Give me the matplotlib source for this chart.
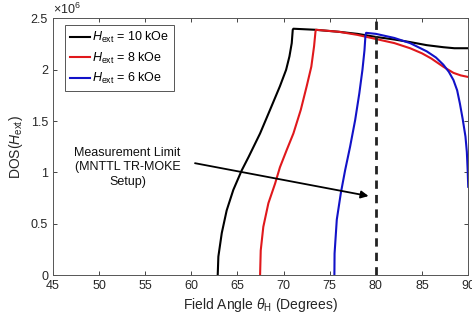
import numpy as np
import matplotlib
matplotlib.use('Agg')
import matplotlib.pyplot as plt

plt.rcParams['font.family'] = ['Liberation Sans', 'DejaVu Sans']
plt.rcParams['mathtext.fontset'] = 'custom'
plt.rcParams['mathtext.rm'] = 'Liberation Sans'
plt.rcParams['mathtext.it'] = 'Liberation Sans:italic'

# Field angle (deg) and DOS (x 1e6)
theta_10 = [62.86, 62.93, 63.3, 63.83, 64.55, 65.46, 66.2, 67.45, 68.53,
            69.6, 70.27, 70.63, 70.88, 70.99, 71.06,
            73.4, 76.0, 78.0, 80.0, 82.0, 83.7, 85.5, 87.3, 88.5, 90.0]
dos_10 = [0.0, 0.18, 0.41, 0.63, 0.83, 1.02, 1.15, 1.38, 1.61,
          1.84, 2.00, 2.13, 2.26, 2.39, 2.40,
          2.39, 2.37, 2.35, 2.32, 2.295, 2.27, 2.24, 2.22, 2.21, 2.21]

theta_8 = [67.45, 67.52, 67.8, 68.35, 69.07, 69.6, 70.34, 71.06, 71.86,
           72.5, 73.0, 73.3, 73.45, 73.5,
           76.0, 78.0, 80.0, 82.0, 83.7, 85.0, 86.0, 87.3, 88.4, 89.2, 90.0]
dos_8 = [0.0, 0.24, 0.47, 0.70, 0.89, 1.05, 1.22, 1.38, 1.61,
         1.84, 2.03, 2.23, 2.37, 2.39,
         2.37, 2.34, 2.30, 2.26, 2.21, 2.16, 2.11, 2.03, 1.97, 1.945, 1.93]

theta_6 = [75.5, 75.52, 75.76, 76.2, 76.66, 77.2, 77.75, 78.2, 78.54, 78.76, 78.87,
           78.94, 80.0, 82.0, 83.7, 85.5, 86.5, 87.3, 87.9, 88.4, 88.8, 89.1,
           89.4, 89.7, 89.85, 89.94, 90.0]
dos_6 = [0.0, 0.21, 0.54, 0.80, 1.02, 1.25, 1.51, 1.77, 2.00, 2.19, 2.34,
         2.36, 2.35, 2.31, 2.26, 2.18, 2.12, 2.05, 1.98, 1.90, 1.80, 1.67,
         1.52, 1.35, 1.20, 1.02, 0.86]

labels = [r'$\it{H}_{\rm ext}$ = 10 kOe', r'$\it{H}_{\rm ext}$ = 8 kOe',
          r'$\it{H}_{\rm ext}$ = 6 kOe']
colors = ['black', '#e0181c', '#1212c8']

limit_angle = 80
xticks = np.arange(45, 91, 5)
yticks = [0, 0.5, 1, 1.5, 2, 2.5]
ytick_labels = ['0', '0.5', '1', '1.5', '2', '2.5']

fig = plt.figure(figsize=(4.72, 3.24), dpi=100)
ax = fig.add_axes([0.112, 0.151, 0.88, 0.792])

ax.plot(theta_10, dos_10, color=colors[0], lw=1.5, label=labels[0])
ax.plot(theta_8, dos_8, color=colors[1], lw=1.5, label=labels[1])
ax.plot(theta_6, dos_6, color=colors[2], lw=1.5, label=labels[2])
ax.axvline(limit_angle, color='#222222', lw=2, ls=(0, (3, 2.2)))

ax.set_xlim(45, 90)
ax.set_ylim(0, 2.5)
ax.set_xticks(xticks)
ax.set_yticks(yticks)
ax.set_yticklabels(ytick_labels)
ax.tick_params(direction='in', top=True, right=True, labelsize=9,
               colors='#262626', length=3, width=0.6)
for s in ax.spines.values():
    s.set_color('#555555')
    s.set_linewidth(0.7)

ax.set_xlabel(r'Field Angle $\it{\theta}_{\rm H}$ (Degrees)', fontsize=10,
              color='#262626', labelpad=3)
ax.set_ylabel(r'DOS($\it{H}_{\rm ext}$)', fontsize=10, color='#262626', labelpad=4)
ax.text(0.0, 1.005, r'$\times10^{6}$', transform=ax.transAxes, fontsize=9,
        color='#262626', ha='left', va='bottom')

leg = ax.legend(loc='upper left', bbox_to_anchor=(0.03, 0.975), fontsize=9,
                handlelength=1.6, handletextpad=0.1, labelspacing=0.45,
                borderpad=0.4, fancybox=False, framealpha=1, borderaxespad=0)
leg.get_frame().set_edgecolor('#555555')
leg.get_frame().set_linewidth(0.7)

ax.text(53.1, 1.05, 'Measurement Limit\n(MNTTL TR-MOKE\nSetup)', fontsize=9,
        ha='center', va='center', linespacing=1.25, color='#111111')
ax.annotate('', xy=(79.2, 0.77), xytext=(60.4, 1.09),
            arrowprops=dict(arrowstyle='-|>', color='black', lw=1.3,
                            mutation_scale=11, shrinkA=0, shrinkB=0))

fig.savefig('out.png', dpi=100)
